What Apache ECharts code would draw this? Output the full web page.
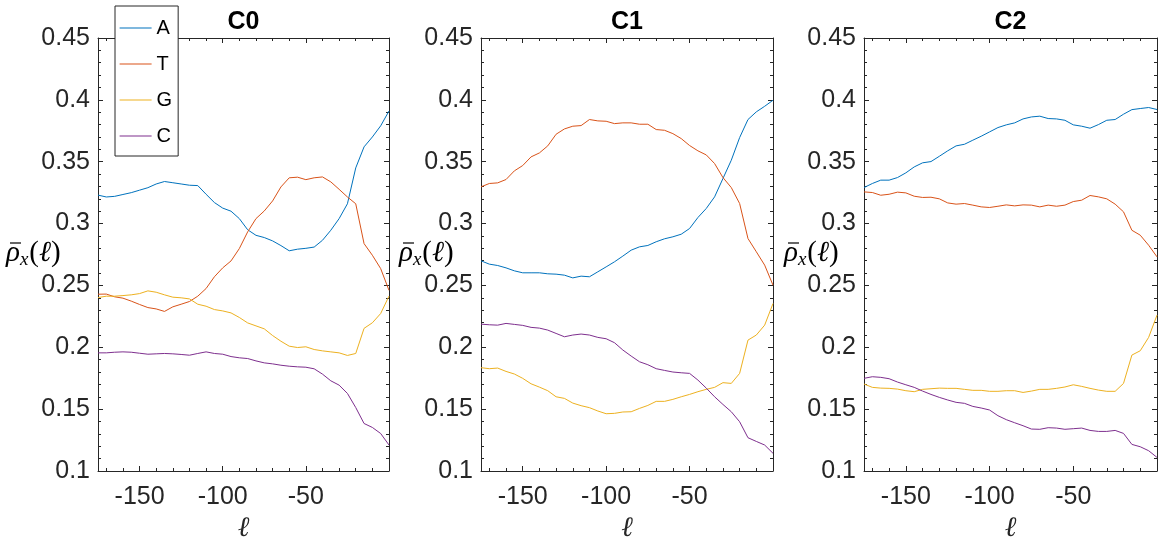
<!DOCTYPE html>
<html>
<head>
<meta charset="utf-8">
<script src="https://cdn.jsdelivr.net/npm/echarts@6/dist/echarts.min.js"></script>
<style>
  html, body { margin: 0; padding: 0; background: #ffffff; }
  #chart { width: 1163px; height: 538px; }
</style>
</head>
<body>
<div id="chart"></div>
<script>
// Position ℓ along the sequence (sampled every 5)
const positions = [-175,-170,-165,-160,-155,-150,-145,-140,-135,-130,-125,-120,-115,-110,-105,-100,
  -95,-90,-85,-80,-75,-70,-65,-60,-55,-50,-45,-40,-35,-30,-25,-20,-15,-10,-5,0];

const bases = ['A', 'T', 'G', 'C'];
const panelTitles = ['C0', 'C1', 'C2'];

// Cluster C0
const c0A = [0.323,0.3215,0.322,0.3235,0.325,0.327,0.329,0.332,0.334,0.333,0.332,0.331,0.3307,0.3237,0.317,0.3125,
  0.310,0.304,0.295,0.2905,0.2887,0.286,0.2822,0.278,0.2793,0.280,0.281,0.2865,0.2946,0.304,0.316,0.345,0.362,0.370,0.379,0.391];
const c0T = [0.2429,0.243,0.2408,0.2397,0.2373,0.2346,0.2321,0.231,0.229,0.2327,0.2348,0.237,0.2413,0.2475,0.257,0.2642,
  0.2698,0.2798,0.2933,0.304,0.3102,0.3183,0.3296,0.337,0.3375,0.3355,0.337,0.3377,0.3337,0.3277,0.3215,0.316,0.2838,0.2744,0.2636,0.246];
const c0G = [0.2402,0.2413,0.2413,0.2418,0.2424,0.2434,0.2456,0.2445,0.2424,0.2405,0.240,0.2391,0.2348,0.2332,0.2305,0.2294,
  0.2278,0.2241,0.2197,0.2173,0.2149,0.2095,0.2049,0.2009,0.1998,0.2004,0.1982,0.1971,0.1963,0.1955,0.1934,0.195,0.2153,0.2198,0.2273,0.2414];
const c0C = [0.1955,0.1955,0.196,0.1963,0.196,0.1952,0.1944,0.1947,0.195,0.1947,0.1942,0.1936,0.195,0.1963,0.195,0.1944,
  0.1925,0.1915,0.1909,0.189,0.1874,0.1866,0.1855,0.1847,0.1842,0.1839,0.1826,0.1783,0.1729,0.1694,0.1627,0.1513,0.1384,0.1352,0.1303,0.121];

// Cluster C1
const c1A = [0.2699,0.2672,0.2661,0.2642,0.2618,0.2602,0.2602,0.2602,0.2594,0.2591,0.2583,0.2561,0.2575,0.257,0.261,0.265,
  0.2691,0.2737,0.2785,0.2812,0.2823,0.2853,0.2877,0.2893,0.2914,0.296,0.3049,0.3122,0.3216,0.3364,0.3512,0.3695,0.3841,0.3903,0.3948,0.3997];
const c1T = [0.3297,0.3324,0.3329,0.3356,0.3426,0.3469,0.3539,0.3571,0.3628,0.3722,0.3765,0.3787,0.3792,0.3841,0.383,0.3827,
  0.3808,0.3814,0.3814,0.3803,0.3803,0.376,0.3754,0.3727,0.3687,0.3631,0.3588,0.3555,0.3485,0.3372,0.3291,0.3162,0.2879,0.2772,0.2664,0.2502];
const c1G = [0.1835,0.1827,0.1832,0.1805,0.1784,0.1749,0.1705,0.1678,0.1649,0.160,0.1587,0.1549,0.1528,0.1512,0.1485,0.1463,
  0.1466,0.1477,0.1479,0.1506,0.153,0.1563,0.1563,0.1579,0.160,0.1619,0.1641,0.166,0.1676,0.1714,0.1708,0.1789,0.2058,0.2099,0.2179,0.2354];
const c1C = [0.2187,0.2182,0.2179,0.2193,0.2185,0.2177,0.2161,0.2155,0.2139,0.2112,0.2085,0.2099,0.2107,0.2099,0.208,0.2069,
  0.2037,0.1978,0.1929,0.1883,0.1859,0.1827,0.1813,0.18,0.1794,0.1789,0.1735,0.167,0.16,0.1538,0.1479,0.1398,0.1269,0.1239,0.121,0.1143];

// Cluster C2
const c2A = [0.3291,0.3324,0.3351,0.3351,0.3372,0.341,0.3458,0.3491,0.3501,0.3544,0.3588,0.3628,0.3641,0.3674,0.3706,0.3741,
  0.3776,0.3798,0.3814,0.3846,0.3862,0.3868,0.3849,0.3846,0.3835,0.3798,0.3787,0.3771,0.38,0.3835,0.3841,0.3884,0.3921,0.393,0.3938,0.3922];
const c2T = [0.3256,0.3251,0.3229,0.3237,0.3254,0.3248,0.3221,0.3211,0.3213,0.32,0.3167,0.3157,0.3162,0.3149,0.3135,0.313,
  0.314,0.3151,0.3143,0.3151,0.3149,0.3135,0.3149,0.314,0.3149,0.3178,0.3189,0.3227,0.3216,0.32,0.3157,0.3095,0.2946,0.2906,0.2825,0.2731];
const c2G = [0.1703,0.1676,0.167,0.1668,0.1662,0.1649,0.1641,0.166,0.1665,0.167,0.1668,0.1668,0.166,0.1652,0.1652,0.1644,
  0.1644,0.1649,0.1649,0.1635,0.1646,0.166,0.166,0.1668,0.1679,0.1697,0.1684,0.1668,0.1654,0.1644,0.1644,0.1708,0.1937,0.1972,0.208,0.226];
const c2C = [0.1749,0.1762,0.1757,0.1746,0.1719,0.1697,0.1676,0.1646,0.1619,0.1595,0.1574,0.1555,0.1547,0.1522,0.1509,0.1493,
  0.1447,0.1415,0.139,0.1366,0.1339,0.1337,0.135,0.1347,0.1337,0.1342,0.1347,0.1328,0.132,0.132,0.1328,0.1304,0.1215,0.1196,0.1164,0.111];

// Axis ticks
const xTickLabels = [-150, -100, -50];
const xMajorTicks = [-150, -100, -50, 0];
const xMinorTicks = [-170,-160,-140,-130,-120,-110,-90,-80,-70,-60,-40,-30,-20,-10];

const panels = [
  [c0A, c0T, c0G, c0C],
  [c1A, c1T, c1G, c1C],
  [c2A, c2T, c2G, c2C]
];

const colors = { A: '#0072BD', T: '#D95319', G: '#EDB120', C: '#7E2F8E' };
const axisColor = '#262626';
const sansFont = "'Liberation Sans', Arial, Helvetica, sans-serif";
const serifFont = "'Liberation Serif', 'DejaVu Serif', serif";

const gridBoxes = [
  { left: 98, width: 291 },
  { left: 481, width: 292 },
  { left: 864, width: 293 }
];
const gridTop = 38, gridHeight = 433;

const grid = [], xAxis = [], yAxis = [], series = [], graphic = [];

gridBoxes.forEach((g, i) => {
  grid.push({
    left: g.left, top: gridTop, width: g.width, height: gridHeight,
    containLabel: false, outerBoundsMode: 'none'
  });

  const xBase = {
    gridIndex: i, type: 'value', min: -175, max: 0,
    splitLine: { show: false }
  };
  // bottom: labelled major ticks, then minor ticks
  xAxis.push(Object.assign({}, xBase, {
    position: 'bottom',
    axisLine: { show: true, onZero: false, lineStyle: { color: axisColor, width: 1 } },
    axisTick: { show: true, inside: true, length: 5, customValues: xMajorTicks, lineStyle: { color: axisColor } },
    axisLabel: { show: true, customValues: xTickLabels, fontSize: 25, color: axisColor, fontFamily: sansFont, margin: 14 },
    name: 'ℓ', nameLocation: 'middle', nameGap: 40,
    nameTextStyle: { fontFamily: serifFont, fontStyle: 'italic', fontSize: 28, color: axisColor }
  }));
  xAxis.push(Object.assign({}, xBase, {
    position: 'bottom',
    axisLine: { show: false, onZero: false },
    axisTick: { show: true, inside: true, length: 3, customValues: xMinorTicks, lineStyle: { color: axisColor } },
    axisLabel: { show: false }
  }));
  // top: mirrored ticks
  xAxis.push(Object.assign({}, xBase, {
    position: 'top',
    axisLine: { show: true, onZero: false, lineStyle: { color: axisColor, width: 1 } },
    axisTick: { show: true, inside: true, length: 5, customValues: xMajorTicks, lineStyle: { color: axisColor } },
    axisLabel: { show: false }
  }));
  xAxis.push(Object.assign({}, xBase, {
    position: 'top',
    axisLine: { show: false, onZero: false },
    axisTick: { show: true, inside: true, length: 3, customValues: xMinorTicks, lineStyle: { color: axisColor } },
    axisLabel: { show: false }
  }));

  const yBase = {
    gridIndex: i, type: 'value', min: 0.1, max: 0.45, interval: 0.05,
    splitLine: { show: false },
    minorTick: { show: true, splitNumber: 5, length: 3, lineStyle: { color: axisColor } },
    minorSplitLine: { show: false }
  };
  yAxis.push(Object.assign({}, yBase, {
    position: 'left',
    axisLine: { show: true, onZero: false, lineStyle: { color: axisColor, width: 1 } },
    axisTick: { show: true, inside: true, length: 5, lineStyle: { color: axisColor } },
    axisLabel: { show: true, fontSize: 25, color: axisColor, fontFamily: sansFont, margin: 8 }
  }));
  yAxis.push(Object.assign({}, yBase, {
    position: 'right',
    axisLine: { show: true, onZero: false, lineStyle: { color: axisColor, width: 1 } },
    axisTick: { show: true, inside: true, length: 5, lineStyle: { color: axisColor } },
    axisLabel: { show: false }
  }));

  panels[i].forEach((vals, b) => {
    series.push({
      name: bases[b], type: 'line',
      xAxisIndex: i * 4, yAxisIndex: i * 2,
      data: positions.map((x, k) => [x, vals[k]]),
      symbol: 'none', showSymbol: false,
      lineStyle: { width: 1, color: colors[bases[b]] },
      itemStyle: { color: colors[bases[b]] },
      z: 3
    });
  });

  // panel title
  graphic.push({
    type: 'text', x: g.left + g.width / 2, y: 22,
    style: {
      text: panelTitles[i], fill: '#000000',
      font: "bold 25px 'Liberation Sans', Arial, sans-serif",
      align: 'center', verticalAlign: 'middle', textAlign: 'center', textVerticalAlign: 'middle'
    }
  });
});

// y-axis label  ρ̄_x(ℓ) : text plus a short bar over ρ
const yLabelLeft = [6, 399, 784];
yLabelLeft.forEach((xl) => {
  graphic.push({
    type: 'group', x: xl, y: 253,
    children: [
      {
        type: 'text', x: 0, y: 0,
        style: {
          text: '{r|ρ}{s|x}{p|(}{r|ℓ}{p|)}',
          align: 'left', verticalAlign: 'middle', textAlign: 'left', textVerticalAlign: 'middle',
          rich: {
            r: { fontFamily: serifFont, fontStyle: 'italic', fontSize: 29, fill: '#000', color: '#000' },
            s: { fontFamily: serifFont, fontStyle: 'italic', fontSize: 19, fill: '#000', color: '#000', padding: [13, 1, 0, 0] },
            p: { fontFamily: serifFont, fontSize: 29, fill: '#000', color: '#000' }
          }
        }
      },
      {
        type: 'line',
        shape: { x1: 4, y1: -10, x2: 15, y2: -10 },
        style: { stroke: '#000', lineWidth: 1.2 }
      }
    ]
  });
});

const chart = echarts.init(document.getElementById('chart'), null, { renderer: 'canvas' });
chart.setOption({
  animation: false,
  backgroundColor: '#ffffff',
  grid, xAxis, yAxis, series, graphic,
  legend: {
    data: bases,
    orient: 'vertical',
    left: 115, top: 6,
    itemWidth: 32, itemHeight: 20, itemGap: 16,
    padding: [12, 6, 10, 4],
    backgroundColor: '#ffffff',
    borderColor: axisColor, borderWidth: 1, borderRadius: 0,
    itemStyle: { opacity: 0 },
    lineStyle: { width: 1.2 },
    textStyle: { fontSize: 20, color: '#000000', fontFamily: sansFont, lineHeight: 20 },
    z: 10
  }
});
</script>
</body>
</html>
